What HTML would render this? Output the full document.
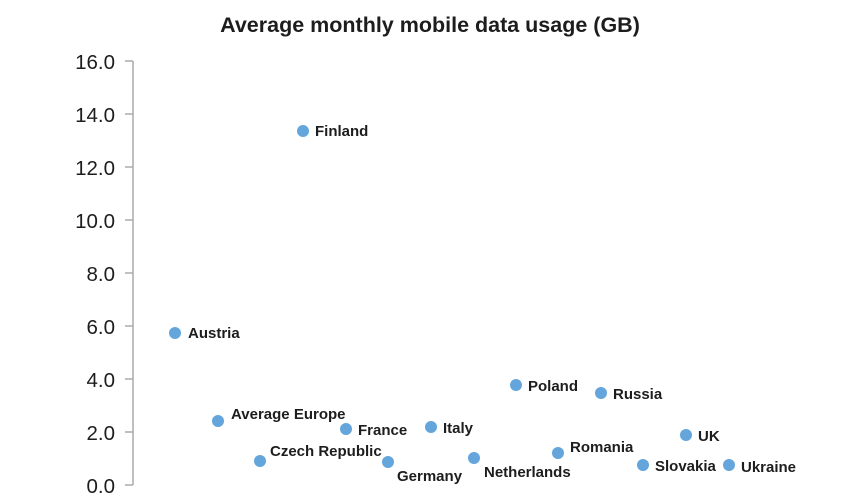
<!DOCTYPE html>
<html><head><style>
html,body{margin:0;padding:0;background:#fff;}
svg{display:block;}
text{font-family:"Liberation Sans",sans-serif;fill:#1d1d1d;}
.l{font-size:15px;font-weight:bold;}
.t{font-size:20.5px;}
</style></head><body>
<svg width="860" height="500" viewBox="0 0 860 500">
<rect width="860" height="500" fill="#fff"/>
<text x="430" y="32" text-anchor="middle" font-size="21.5" font-weight="bold">Average monthly mobile data usage (GB)</text>
<g stroke="#aaa" stroke-width="1.5" fill="none">
<line x1="133" y1="61" x2="133" y2="485"/>
<line x1="125" y1="61" x2="133" y2="61"/>
<line x1="125" y1="114" x2="133" y2="114"/>
<line x1="125" y1="167" x2="133" y2="167"/>
<line x1="125" y1="220" x2="133" y2="220"/>
<line x1="125" y1="273" x2="133" y2="273"/>
<line x1="125" y1="326" x2="133" y2="326"/>
<line x1="125" y1="379" x2="133" y2="379"/>
<line x1="125" y1="432" x2="133" y2="432"/>
<line x1="125" y1="485" x2="133" y2="485"/>
</g>
<g text-anchor="end">
<text class="t" x="115" y="69">16.0</text>
<text class="t" x="115" y="122">14.0</text>
<text class="t" x="115" y="175">12.0</text>
<text class="t" x="115" y="228">10.0</text>
<text class="t" x="115" y="281">8.0</text>
<text class="t" x="115" y="334">6.0</text>
<text class="t" x="115" y="387">4.0</text>
<text class="t" x="115" y="440">2.0</text>
<text class="t" x="115" y="493">0.0</text>
</g>
<g fill="#64a6dc">
<circle cx="303" cy="131" r="6"/>
<circle cx="175" cy="333" r="6"/>
<circle cx="218" cy="421" r="6"/>
<circle cx="260" cy="461" r="6"/>
<circle cx="346" cy="429" r="6"/>
<circle cx="388" cy="462" r="6"/>
<circle cx="431" cy="427" r="6"/>
<circle cx="474" cy="458" r="6"/>
<circle cx="516" cy="385" r="6"/>
<circle cx="558" cy="453" r="6"/>
<circle cx="601" cy="393" r="6"/>
<circle cx="686" cy="435" r="6"/>
<circle cx="643" cy="465" r="6"/>
<circle cx="729" cy="465" r="6"/>
</g>
<text class="l" x="315" y="136">Finland</text>
<text class="l" x="188" y="338">Austria</text>
<text class="l" x="231" y="419">Average Europe</text>
<text class="l" x="270" y="456">Czech Republic</text>
<text class="l" x="358" y="435">France</text>
<text class="l" x="397" y="481">Germany</text>
<text class="l" x="443" y="433">Italy</text>
<text class="l" x="484" y="477">Netherlands</text>
<text class="l" x="528" y="391">Poland</text>
<text class="l" x="570" y="452">Romania</text>
<text class="l" x="613" y="399">Russia</text>
<text class="l" x="698" y="441">UK</text>
<text class="l" x="655" y="471">Slovakia</text>
<text class="l" x="741" y="472">Ukraine</text>
</svg>
</body></html>
